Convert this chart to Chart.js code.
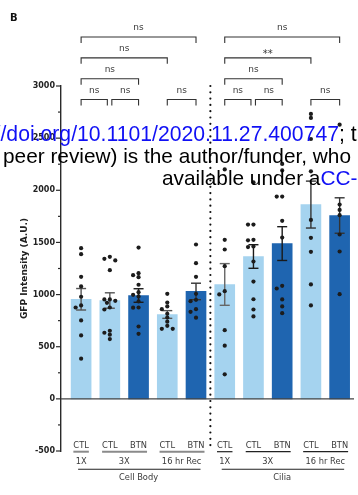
<!DOCTYPE html>
<html>
<head>
<meta charset="utf-8">
<script src="https://cdn.jsdelivr.net/npm/chart.js@4.4.1/dist/chart.umd.min.js"></script>
<style>
  html, body { margin: 0; padding: 0; background: #fff; }
  canvas { display: block; }
</style>
</head>
<body>
<canvas id="gfp" width="358" height="495"></canvas>
<script>
// per-bar condition, mean and SEM (5 cell body bars, then 5 cilia bars)
const conditions = ['CTL', 'CTL', 'BTN', 'CTL', 'BTN', 'CTL', 'CTL', 'BTN', 'CTL', 'BTN'];
const means = [955, 943, 991, 809, 1030, 1097, 1365, 1489, 1863, 1758];
const sems = [103, 74, 65, 37, 79, 200, 113, 162, 225, 170];

// individual measurements
const bodyCtl1x = [1445, 1387, 1170, 1078, 979, 896, 876, 752, 608, 385];
const bodyCtl3x = [1362, 1343, 1327, 1234, 953, 953, 940, 921, 876, 857, 653, 634, 615, 573];
const bodyBtn3x = [1451, 1205, 1186, 1167, 1094, 1023, 998, 982, 934, 876, 874, 694, 624];
const bodyCtlRec = [1007, 924, 886, 860, 816, 779, 740, 700, 672, 672];
const bodyBtnRec = [1480, 1301, 1170, 1007, 950, 937, 860, 835, 778];
const ciliaCtl1x = [2200, 1525, 1432, 1272, 1033, 1001, 659, 510, 235];
const ciliaCtl3x = [2077, 1671, 1671, 1525, 1520, 1461, 1455, 1317, 1125, 955, 857, 790];
const ciliaBtn3x = [2253, 2190, 1940, 1940, 1707, 1547, 1084, 1058, 953, 886, 822];
const ciliaCtlRec = [2732, 2694, 2492, 2182, 1716, 1544, 1410, 1097, 896];
const ciliaBtnRec = [2629, 1863, 1812, 1761, 1576, 1413, 1004];
const replicates = [bodyCtl1x, bodyCtl3x, bodyBtn3x, bodyCtlRec, bodyBtnRec,
                    ciliaCtl1x, ciliaCtl3x, ciliaBtn3x, ciliaCtlRec, ciliaBtnRec];

// x grouping labels under the axis
const timepoints = ['1X', '3X', '16 hr Rec', '1X', '3X', '16 hr Rec'];
const timeFrom = [0, 1, 3, 5, 6, 8];
const timeTo = [0, 2, 4, 5, 7, 9];
const regions = ['Cell Body', 'Cilia'];
const regionFrom = [0, 5];
const regionTo = [4, 9];

// significance brackets
const cmpFrom = [0, 1, 3, 0, 0, 0, 5, 6, 8, 5, 5, 5];
const cmpTo = [1, 2, 4, 2, 3, 4, 6, 7, 9, 7, 8, 9];
const cmpLabel = ['ns', 'ns', 'ns', 'ns', 'ns', 'ns', 'ns', 'ns', 'ns', 'ns', '**', 'ns'];
const cmpLevel = [0, 0, 0, 1, 2, 3, 0, 0, 0, 1, 2, 3];
const bracketHeights = [2870, 3070, 3270, 3470];

const yMin = -500, yMax = 3000, yStep = 500;

const LIGHT = '#a5d3ef', DARK = '#1f65b0';
const barColors = [LIGHT, LIGHT, DARK, LIGHT, DARK, LIGHT, LIGHT, DARK, LIGHT, DARK];
const errColors = ['#555', '#555', '#1a1a1a', '#555', '#333', '#666', '#1a1a1a', '#1a1a1a', '#333', '#333'];
const FONT = '"DejaVu Sans", Verdana, sans-serif';

// simple beeswarm: push overlapping dots sideways
function spread(values, i) {
  const offs = [0, -0.19, 0.19, -0.1, 0.1, -0.28, 0.28];
  const placed = [];
  const order = values.map((v, k) => k).sort((a, b) => values[b] - values[a]);
  return order.map(k => {
    const v = values[k];
    const o = offs.find(c => !placed.some(p =>
      Math.hypot((p.o - c) * 28.7, (p.v - v) * 0.1043) < 3.8)) ?? 0;
    placed.push({ o, v });
    return { x: i + o, y: v };
  });
}

function text(ctx, s, x, y, font, color, align) {
  ctx.font = font;
  ctx.fillStyle = color;
  ctx.textAlign = align || 'center';
  ctx.textBaseline = 'alphabetic';
  ctx.fillText(s, x, y);
}

function line(ctx, x1, y1, x2, y2) {
  ctx.beginPath();
  ctx.moveTo(x1, y1);
  ctx.lineTo(x2, y2);
  ctx.stroke();
}

const errorBars = {
  id: 'errorBars',
  afterDatasetDraw(chart, args) {
    if (args.index !== 1) return;
    const { ctx, scales: { x, y } } = chart;
    ctx.save();
    ctx.lineWidth = 1.4;
    means.forEach((m, i) => {
      const px = x.getPixelForValue(i);
      const top = y.getPixelForValue(m + sems[i]);
      const bot = y.getPixelForValue(m - sems[i]);
      ctx.strokeStyle = errColors[i];
      line(ctx, px, top, px, bot);
      line(ctx, px - 5, top, px + 5, top);
      line(ctx, px - 5, bot, px + 5, bot);
    });
    ctx.restore();
  }
};

const decorations = {
  id: 'decorations',
  afterDatasetsDraw(chart) {
    const { ctx, chartArea: a, scales: { y } } = chart;
    ctx.save();
    ctx.strokeStyle = '#444';
    ctx.lineWidth = 1.4;
    line(ctx, a.left, y.getPixelForValue(0), a.right, y.getPixelForValue(0));
    ctx.restore();
  },
  afterDraw(chart) {
    const { ctx, chartArea: a, scales: { x, y } } = chart;
    ctx.save();

    // y tick marks, long at labels, short in between
    ctx.strokeStyle = '#2a2a2a';
    ctx.lineWidth = 1.2;
    for (let v = yMin; v <= yMax; v += yStep / 2) {
      const py = y.getPixelForValue(v);
      line(ctx, a.left - (v % yStep === 0 ? 5 : 3), py, a.left, py);
    }

    // dotted divider between cell body and cilia
    ctx.strokeStyle = '#111';
    ctx.lineWidth = 2.2;
    ctx.lineCap = 'round';
    ctx.setLineDash([0, 6.3]);
    line(ctx, x.getPixelForValue(4.5), y.getPixelForValue(yMax), x.getPixelForValue(4.5), y.getPixelForValue(-450));
    ctx.setLineDash([]);
    ctx.lineCap = 'butt';

    // significance brackets
    ctx.strokeStyle = '#333';
    ctx.lineWidth = 1.1;
    cmpFrom.forEach((f, k) => {
      const t = cmpTo[k], lv = cmpLevel[k];
      const sharedL = cmpTo.some((tt, j) => j !== k && cmpLevel[j] === lv && tt === f);
      const sharedR = cmpFrom.some((ff, j) => j !== k && cmpLevel[j] === lv && ff === t);
      const x1 = x.getPixelForValue(f) + (sharedL ? 2 : 0);
      const x2 = x.getPixelForValue(t) - (sharedR ? 2.5 : 0);
      const py = y.getPixelForValue(bracketHeights[lv]);
      ctx.beginPath();
      ctx.moveTo(x1, py + 6);
      ctx.lineTo(x1, py);
      ctx.lineTo(x2, py);
      ctx.lineTo(x2, py + 6);
      ctx.stroke();
      const star = cmpLabel[k] !== 'ns';
      text(ctx, cmpLabel[k], (x1 + x2) / 2, star ? py - 1 : py - 6.5,
           (star ? '10px ' : '9px ') + FONT, '#3a3a3a');
    });

    // condition labels and underlines
    const bottom = a.bottom;
    const small = '8.3px ' + FONT;
    ctx.font = small;
    conditions.forEach((c, i) => text(ctx, c, x.getPixelForValue(i), bottom - 2.7, small, '#3a3a3a'));
    timepoints.forEach((tp, k) => {
      const f = timeFrom[k], t = timeTo[k];
      ctx.font = small;
      const x1 = x.getPixelForValue(f) - ctx.measureText(conditions[f]).width / 2;
      const x2 = x.getPixelForValue(t) + ctx.measureText(conditions[t]).width / 2;
      const body = f < 5;
      ctx.strokeStyle = body ? '#8a8a8a' : '#222';
      ctx.lineWidth = body ? 2 : 1.2;
      line(ctx, x1, bottom + 0.7, x2, bottom + 0.7);
      text(ctx, tp, (x.getPixelForValue(f) + x.getPixelForValue(t)) / 2, bottom + 13.3, small, '#3a3a3a');
    });
    regions.forEach((r, k) => {
      const x1 = x.getPixelForValue(regionFrom[k]) - 3;
      const x2 = x.getPixelForValue(regionTo[k]) + 4.5;
      ctx.strokeStyle = '#222';
      ctx.lineWidth = 1.1;
      line(ctx, x1, bottom + 18.3, x2, bottom + 18.3);
      text(ctx, r, (x.getPixelForValue(regionFrom[k]) + x.getPixelForValue(regionTo[k])) / 2,
           bottom + 29, '8.3px ' + FONT, '#3a3a3a');
    });

    // panel letter
    text(ctx, 'B', 10, 20.7, 'bold 10px ' + FONT, '#111', 'left');

    // preprint licence stamp across the figure
    const wm = '20.8px "Liberation Sans", Arial, sans-serif';
    const wmTop = '21.2px "Liberation Sans", Arial, sans-serif';
    const blue = '#1010f5';
    text(ctx, 'https://doi.org/10.1101/2020.11.27.400747', 339, 141, wmTop, blue, 'right');
    text(ctx, '; this version posted', 339, 141, wmTop, '#000', 'left');
    ctx.font = wm;
    const pre = '(which was not certified by ';
    text(ctx, pre + 'peer review) is the author/funder, who has granted bioRxiv a license',
         3 - ctx.measureText(pre).width, 163, wm, '#000', 'left');
    ctx.font = wm;
    const avail = 'available under a';
    const aw = ctx.measureText(avail).width;
    text(ctx, avail, 162, 185, wm, '#000', 'left');
    text(ctx, 'CC-BY-NC-ND 4.0 International license.', 162 + aw, 185, wm, blue, 'left');

    ctx.restore();
  }
};

new Chart(document.getElementById('gfp'), {
  type: 'bar',
  data: {
    datasets: [{
      type: 'scatter',
      order: 1,
      data: replicates.flatMap((vals, i) => spread(vals, i)),
      backgroundColor: '#1c1c1c',
      borderWidth: 0,
      pointRadius: 2.1,
      pointHoverRadius: 2.1
    }, {
      type: 'bar',
      order: 2,
      data: means.map((m, i) => ({ x: i, y: m })),
      backgroundColor: barColors,
      borderWidth: 0,
      barThickness: 20
    }]
  },
  options: {
    responsive: false,
    animation: false,
    devicePixelRatio: 1,
    layout: { padding: { top: 86, bottom: 44, left: 0, right: 4 } },
    plugins: { legend: { display: false }, tooltip: { enabled: false } },
    scales: {
      x: {
        type: 'linear',
        min: -0.7,
        max: 9.5,
        offset: false,
        display: false
      },
      y: {
        min: yMin,
        max: yMax,
        afterFit(scale) { scale.width = 61; },
        ticks: {
          stepSize: yStep,
          padding: 1,
          color: '#222',
          font: { family: FONT, size: 8, weight: 'bold' },
          callback: v => String(v)
        },
        grid: { display: false, drawTicks: true, tickLength: 5 },
        border: { display: true, color: '#2a2a2a', width: 1.4 },
        title: {
          display: true,
          text: 'GFP Intensity (A.U.)',
          color: '#222',
          font: { family: FONT, size: 9, weight: 'bold' },
          padding: { top: 19, bottom: 0 }
        }
      }
    }
  },
  plugins: [errorBars, decorations]
});
</script>
</body>
</html>
